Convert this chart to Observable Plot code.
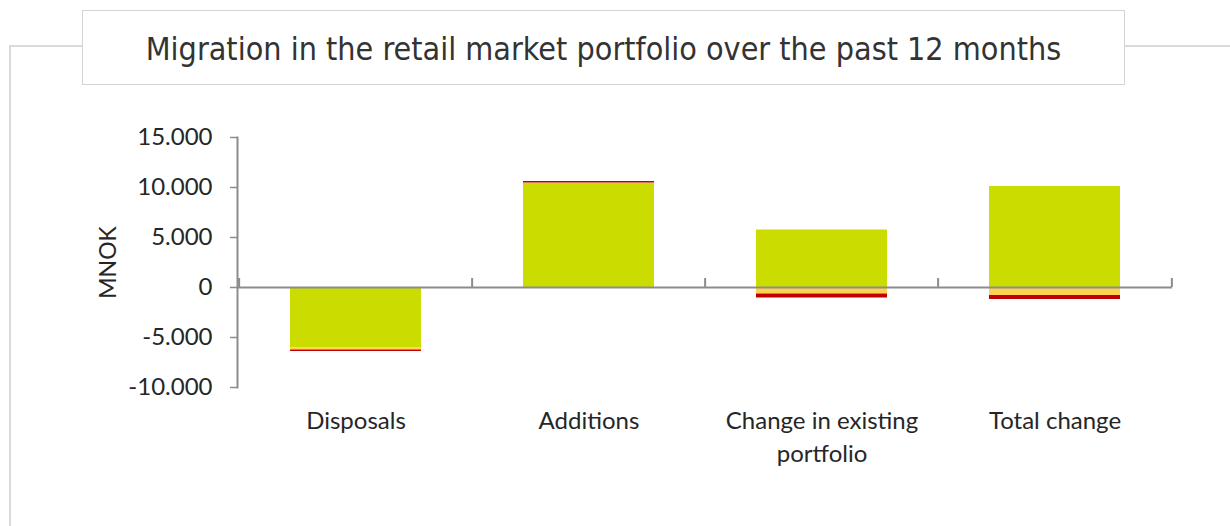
<!DOCTYPE html>
<html>
<head>
<meta charset="utf-8">
<script src="https://cdn.jsdelivr.net/npm/d3@7"></script>
<script src="https://cdn.jsdelivr.net/npm/@observablehq/plot@0.6"></script>
<style>
  html, body { margin: 0; padding: 0; background: #fff; }
  #wrap { position: relative; width: 1230px; height: 526px; overflow: hidden; }
  #chart { position: absolute; left: 0; top: 0; }
  .line { position: absolute; background: #d9d9d9; }
  #title {
    position: absolute; left: 82px; top: 10px; width: 1043px; height: 75px;
    border: 1px solid #d4d4d4; background: #fff; box-sizing: border-box;
    display: flex; align-items: center; justify-content: center;
    font-family: "DejaVu Sans Condensed", "DejaVu Sans", sans-serif; font-stretch: condensed;
    font-size: 32px; color: #333; padding-top: 3px;
  }
</style>
</head>
<body>
<div id="wrap">
  <div class="line" style="left:9px; top:45px; width:74px; height:2px;"></div>
  <div class="line" style="left:1125px; top:45px; width:110px; height:2px;"></div>
  <div class="line" style="left:9px; top:45px; width:2px; height:490px;"></div>
  <div id="chart"></div>
  <div id="title">Migration in the retail market portfolio over the past 12 months</div>
</div>
<script>
const categories = ["Disposals", "Additions", "Change in existing\nportfolio", "Total change"];
const seriesNames = ["Low risk", "Medium risk", "High risk"];
const lowRiskValues = [-6050, 10400, 5750, 10100];
const mediumRiskValues = [-200, 50, -650, -800];
const highRiskValues = [-150, 150, -400, -400];
const yTicks = [-10000, -5000, 0, 5000, 10000, 15000];
const colors = ["#cadc00", "#fdd250", "#c00000"];

const seriesValues = [lowRiskValues, mediumRiskValues, highRiskValues];
const data = [];
seriesNames.forEach((s, si) => {
  categories.forEach((c, ci) => data.push({category: c, series: s, value: seriesValues[si][ci]}));
});

const fmt = d3.formatLocale({decimal: ",", thousands: ".", grouping: [3], minus: "-"}).format(",");

const W = 1230, H = 526, mL = 237, mR = 58, mT = 137, mB = 139;
const step = (W - mL - mR) / categories.length;

const chart = Plot.plot({
  width: W, height: H,
  marginLeft: mL, marginRight: mR, marginTop: mT, marginBottom: mB,
  style: {fontFamily: "Lato, 'Open Sans', sans-serif", fontSize: "24px", color: "#262626", background: "transparent"},
  x: {domain: categories, padding: 0},
  y: {domain: [-10000, 15000]},
  color: {type: "ordinal", domain: seriesNames, range: colors},
  marks: [
    Plot.barY(data, Plot.stackY({x: "category", y: "value", fill: "series", order: null, insetLeft: 51, insetRight: 51})),
    Plot.axisY({ticks: yTicks, tickFormat: fmt, tickSize: 7, tickPadding: 18, stroke: "#8c8c8c", strokeWidth: 1.5, label: null, fontSize: 24, fill: "#262626"}),
    Plot.axisX({tickSize: 0, tickPadding: 18, label: null, fontSize: 24, lineHeight: 1.375, fill: "#262626"}),
    Plot.frame({anchor: "left", stroke: "#8c8c8c", strokeWidth: 2}),
    Plot.ruleY([0], {stroke: "#8c8c8c", strokeWidth: 2}),
    Plot.ruleX(categories, {x: d => d, dx: -step / 2, y1: 0, y2: 900, stroke: "#8c8c8c", strokeWidth: 2}),
    Plot.ruleX(categories.slice(-1), {x: d => d, dx: step / 2, y1: 0, y2: 900, stroke: "#8c8c8c", strokeWidth: 2}),
    Plot.text(["MNOK"], {frameAnchor: "left", dx: -129, rotate: -90, textAnchor: "middle", text: d => d, fontSize: 23, fill: "#262626"})
  ]
});
document.getElementById("chart").appendChild(chart);
</script>
</body>
</html>
